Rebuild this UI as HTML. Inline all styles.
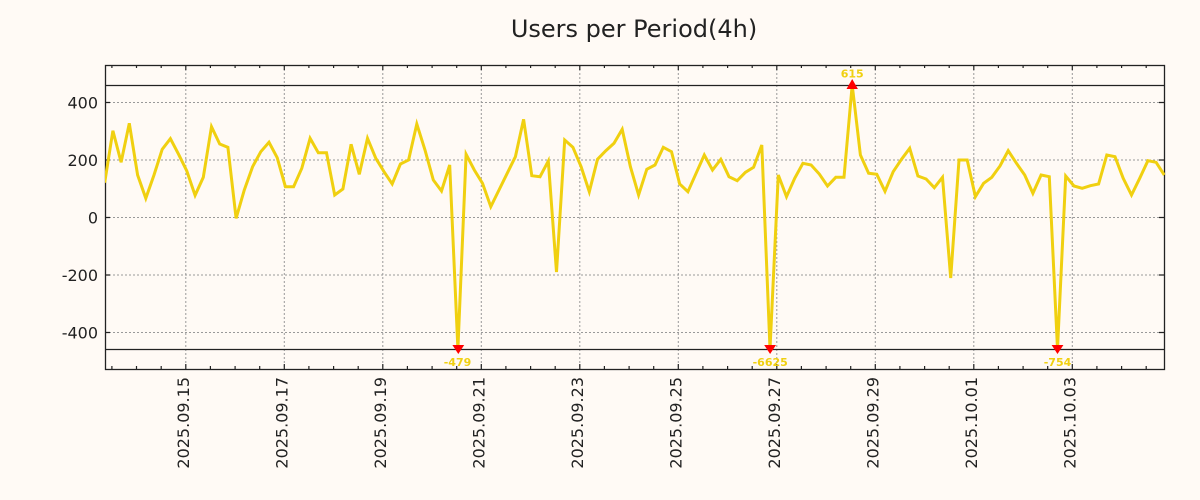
<!DOCTYPE html>
<html><head><meta charset="utf-8"><style>
html,body{margin:0;padding:0;background:#fffaf5;}
svg{display:block;}
text{font-family:"DejaVu Sans","Liberation Sans",sans-serif;}
</style></head><body>
<svg width="1200" height="500" viewBox="0 0 1200 500" xmlns="http://www.w3.org/2000/svg">
<rect x="0" y="0" width="1200" height="500" fill="#fffaf5"/>
<text x="634" y="37" font-size="24" text-anchor="middle" fill="#222">Users per Period(4h)</text>
<defs><clipPath id="pc"><rect x="105" y="65" width="1060" height="305"/></clipPath></defs>
<!-- grid -->
<g stroke="#999" stroke-width="1" stroke-dasharray="2,2" fill="none">
<path d="M105 102.5H1164M105 160H1164M105 217.5H1164M105 275H1164M105 332.5H1164"/>
<path d="M185.8 65V369M284.3 65V369M382.8 65V369M481.3 65V369M579.8 65V369M678.3 65V369M776.8 65V369M875.3 65V369M973.8 65V369M1072.3 65V369"/>
</g>
<!-- clip lines -->
<path d="M105 85.5H1164M105 349.5H1164" stroke="#222" stroke-width="1.2"/>
<!-- border -->
<rect x="105.5" y="65.5" width="1059" height="304" fill="none" stroke="#222" stroke-width="1.3"/>
<!-- y ticks -->
<g stroke="#222" stroke-width="1.2">
<path d="M105 102.5h5M105 160h5M105 217.5h5M105 275h5M105 332.5h5"/>
<path d="M1164 102.5h-5M1164 160h-5M1164 217.5h-5M1164 275h-5M1164 332.5h-5"/>
<path d="M185.8 369v-5M284.3 369v-5M382.8 369v-5M481.3 369v-5M579.8 369v-5M678.3 369v-5M776.8 369v-5M875.3 369v-5M973.8 369v-5M1072.3 369v-5"/>
<path d="M185.8 65v5M284.3 65v5M382.8 65v5M481.3 65v5M579.8 65v5M678.3 65v5M776.8 65v5M875.3 65v5M973.8 65v5M1072.3 65v5"/>
<path d="M111.9 369v-3M136.5 369v-3M161.2 369v-3M210.4 369v-3M235.1 369v-3M259.7 369v-3M308.9 369v-3M333.6 369v-3M358.2 369v-3M407.4 369v-3M432.1 369v-3M456.7 369v-3M505.9 369v-3M530.6 369v-3M555.2 369v-3M604.4 369v-3M629.1 369v-3M653.7 369v-3M702.9 369v-3M727.6 369v-3M752.2 369v-3M801.4 369v-3M826.1 369v-3M850.7 369v-3M899.9 369v-3M924.6 369v-3M949.2 369v-3M998.4 369v-3M1023.1 369v-3M1047.7 369v-3M1096.9 369v-3M1121.6 369v-3M1146.2 369v-3"/>
<path d="M111.9 65v3M136.5 65v3M161.2 65v3M210.4 65v3M235.1 65v3M259.7 65v3M308.9 65v3M333.6 65v3M358.2 65v3M407.4 65v3M432.1 65v3M456.7 65v3M505.9 65v3M530.6 65v3M555.2 65v3M604.4 65v3M629.1 65v3M653.7 65v3M702.9 65v3M727.6 65v3M752.2 65v3M801.4 65v3M826.1 65v3M850.7 65v3M899.9 65v3M924.6 65v3M949.2 65v3M998.4 65v3M1023.1 65v3M1047.7 65v3M1096.9 65v3M1121.6 65v3M1146.2 65v3"/>
</g>
<!-- y labels -->
<g font-size="16" fill="#222" text-anchor="end">
<text x="98" y="108.3">400</text>
<text x="98" y="165.8">200</text>
<text x="98" y="223.3">0</text>
<text x="98" y="280.8">-200</text>
<text x="98" y="338.3">-400</text>
</g>
<!-- x labels -->
<g font-size="16" fill="#222" text-anchor="end">
<text transform="translate(188.8,377) rotate(-90)">2025.09.15</text>
<text transform="translate(287.3,377) rotate(-90)">2025.09.17</text>
<text transform="translate(385.8,377) rotate(-90)">2025.09.19</text>
<text transform="translate(484.3,377) rotate(-90)">2025.09.21</text>
<text transform="translate(582.8,377) rotate(-90)">2025.09.23</text>
<text transform="translate(681.3,377) rotate(-90)">2025.09.25</text>
<text transform="translate(779.8,377) rotate(-90)">2025.09.27</text>
<text transform="translate(878.3,377) rotate(-90)">2025.09.29</text>
<text transform="translate(976.8,377) rotate(-90)">2025.10.01</text>
<text transform="translate(1075.3,377) rotate(-90)">2025.10.03</text>
</g>
<!-- series -->
<g clip-path="url(#pc)">
<polyline fill="none" stroke="#f0d010" stroke-width="3" stroke-linejoin="miter" points="
104.7,182.7 112.9,130.7 121.1,162.3 129.3,123.3 137.6,175 145.8,198.3 154.0,175 162.2,149.3 170.4,138.7 178.6,154.3
186.8,171 195.1,195.3 203.3,177.3 211.5,126.7 219.7,144 227.9,147.3 236.1,218.3 244.3,190 252.6,166.7 260.8,151.7
269.0,142.3 277.2,157.7 285.4,186.7 293.6,186.7 301.8,168.3 310.1,138.3 318.3,152.7 326.5,152.7 334.7,195 342.9,189
351.1,144.3 359.3,174.3 367.5,138.3 375.8,158.3 384.0,171.7 392.2,184 400.4,164 408.6,160 416.8,124 425.0,150
433.3,180 441.5,191 449.7,165 457.9,349 466.1,154.3 474.3,170 482.5,183.3 490.8,206.7 499.0,190 507.2,173.3
515.4,156.7 523.6,119.3 531.8,175.7 540.0,176.7 548.3,161 556.5,272 564.7,140 572.9,147.3 581.1,166.7 589.3,191.7
597.5,159.3 605.8,150.7 614.0,143.3 622.2,129.3 630.4,166.7 638.6,195 646.8,169.3 655.0,165 663.3,147.3 671.5,151.7
679.7,184 687.9,191.7 696.1,173.3 704.3,155 712.5,170 720.8,159.3 729.0,176.7 737.2,180.7 745.4,172.3 753.6,167.3
761.8,145 770.0,349 778.3,175 786.5,196.7 794.7,178.3 802.9,163.3 811.1,165 819.3,174 827.5,186 835.8,177.3
844.0,177.3 852.2,85 860.4,155 868.6,173.3 876.8,174.3 885.0,191.3 893.2,171.7 901.5,159.3 909.7,148.3 917.9,176
926.1,179 934.3,187.7 942.5,177.3 950.7,278 959.0,160 967.2,160 975.4,196.7 983.6,183.3 991.8,177.3 1000.0,166
1008.2,150.7 1016.5,163.3 1024.7,175 1032.9,193.3 1041.1,175 1049.3,176.7 1057.5,349 1065.7,176 1074.0,186 1082.2,188.3
1090.4,185.7 1098.6,184 1106.8,155 1115.0,156.7 1123.2,178.3 1131.5,195 1139.7,178.3 1147.9,160.7 1156.1,162.3 1164.3,175"/>
</g>
<!-- markers -->
<g fill="#ff0000">
<polygon points="852.2,79 846.5,89 857.9,89"/>
<polygon points="452.4,345 464.2,345 458.3,354"/>
<polygon points="764.2,345 776,345 770.1,354"/>
<polygon points="1051.6,345 1063.4,345 1057.5,354"/>
</g>
<g font-size="11" font-weight="bold" fill="#f0d010" text-anchor="middle">
<text x="852.2" y="77.5">615</text>
<text x="457.5" y="366">-479</text>
<text x="770.2" y="366">-6625</text>
<text x="1057.5" y="366">-754</text>
</g>
</svg>
</body></html>
